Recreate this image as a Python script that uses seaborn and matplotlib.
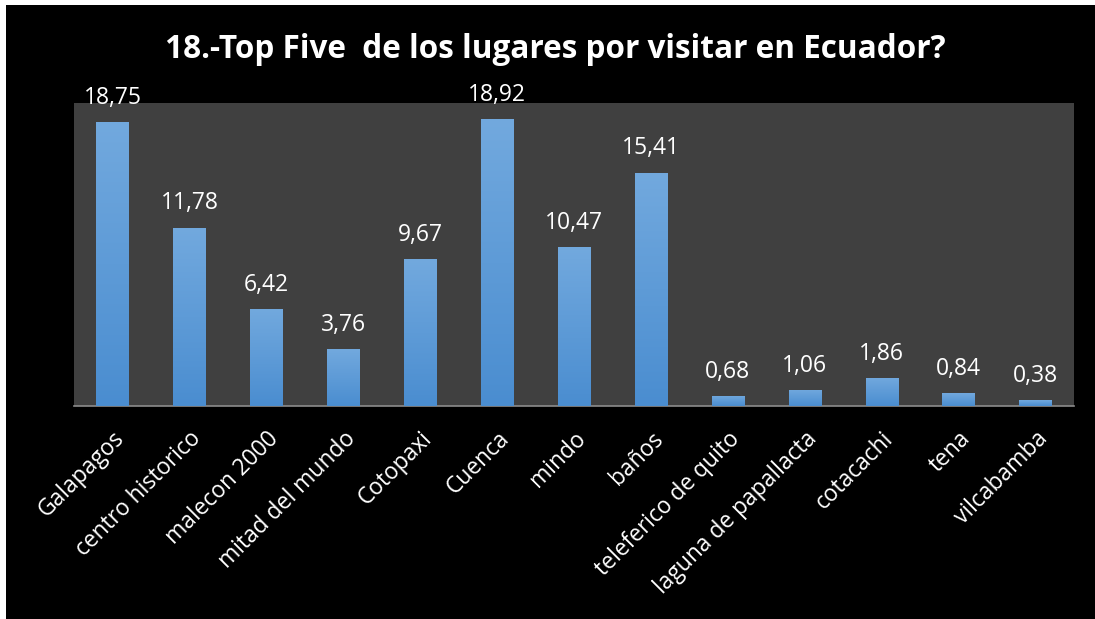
import numpy as np
import pandas as pd
import matplotlib
matplotlib.use("Agg")
import matplotlib.pyplot as plt
import seaborn as sns
from matplotlib.patches import Rectangle

lugares = [
    "Galapagos", "centro historico", "malecon 2000", "mitad del mundo",
    "Cotopaxi", "Cuenca", "mindo", "baños", "teleferico de quito",
    "laguna de papallacta", "cotacachi", "tena", "vilcabamba",
]
porcentajes = [18.75, 11.78, 6.42, 3.76, 9.67, 18.92, 10.47, 15.41,
               0.68, 1.06, 1.86, 0.84, 0.38]
titulo = "18.-Top Five  de los lugares por visitar en Ecuador?"

df = pd.DataFrame({"lugar": lugares, "pct": porcentajes})

sns.set_theme(style="dark")
plt.rcParams["font.family"] = ["Open Sans", "DejaVu Sans"]

fig = plt.figure(figsize=(10.95, 6.19), dpi=100, facecolor="white")
fig.patches.append(Rectangle((6 / 1095, 0), 1 - 6 / 1095, 1 - 5 / 619,
                             transform=fig.transFigure, facecolor="black",
                             edgecolor="none", zorder=-10))

ax = fig.add_axes([74 / 1095, 1 - 406 / 619, 1000 / 1095, 303 / 619])
ax.set_facecolor("#404040")

sns.barplot(data=df, x="lugar", y="pct", color="#5B9BD5", width=0.42,
            saturation=1, linewidth=0, edgecolor="none", ax=ax, zorder=2)

ax.set_ylim(0, 20)
ax.set_xlim(-0.5, len(lugares) - 0.5)

# vertical gradient on each bar
grad = np.linspace(0, 1, 256).reshape(-1, 1)
cmap = matplotlib.colors.LinearSegmentedColormap.from_list(
    "bar", ["#4A8DD0", "#72A9DE"])
for p in ax.patches:
    x0, y0 = p.get_x(), p.get_y()
    w, h = p.get_width(), p.get_height()
    im = ax.imshow(grad, extent=[x0, x0 + w, y0, y0 + h], origin="lower",
                   cmap=cmap, aspect="auto", zorder=3)
    im.set_clip_path(p)

for i, v in enumerate(porcentajes):
    ax.annotate(f"{v:.2f}".replace(".", ","), (i, v), xytext=(0, 13),
                textcoords="offset points", ha="center", va="baseline",
                color="white", fontsize=16.5, zorder=4)

ax.set_xticks(range(len(lugares)))
ax.set_xticklabels(lugares, rotation=45, ha="right", rotation_mode="anchor",
                   color="white", fontsize=16.4)
ax.tick_params(axis="x", length=0, pad=15)
ax.set_yticks([])
ax.set_xlabel("")
ax.set_ylabel("")
for s in ["top", "left", "right"]:
    ax.spines[s].set_visible(False)
ax.spines["bottom"].set_visible(True)
ax.spines["bottom"].set_color("#8C8C8C")
ax.spines["bottom"].set_linewidth(1.2)

fig.text(555 / 1095, 1 - 49 / 619, titulo, ha="center", va="center",
         color="white", fontsize=22.7, fontweight="bold")

fig.savefig("out.png", dpi=100, facecolor=fig.get_facecolor())
